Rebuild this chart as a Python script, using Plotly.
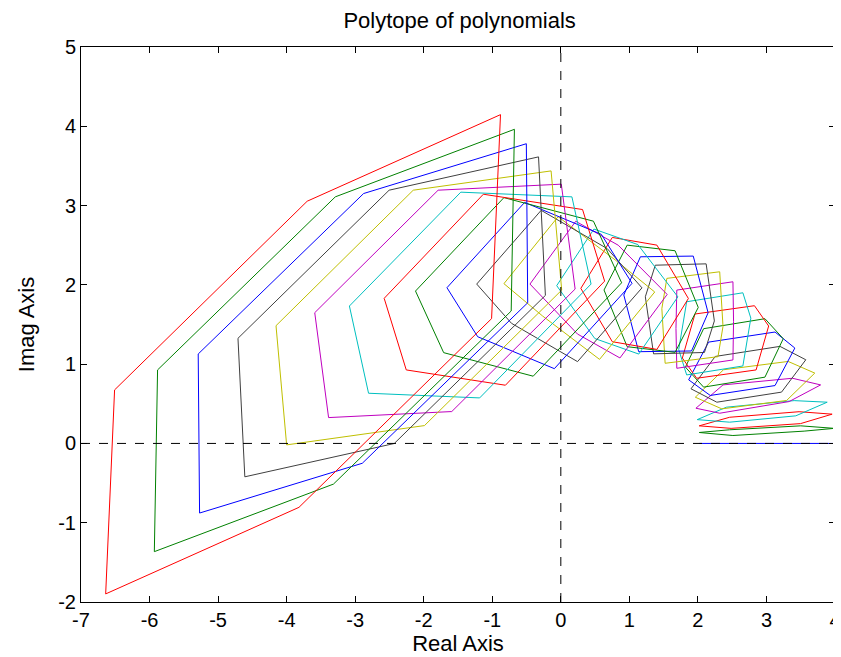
import plotly.graph_objects as go

# MATLAB colour order cycles b, g, r, c, m, y, k by frequency index
color_cycle = ["#0000FF", "#008000", "#FF0000", "#00BFBF", "#BF00BF", "#BFBF00", "#404040"]

# Value sets (hexagon vertices), index 0 = lowest frequency
poly_x = [
    [2.02, 4.0],
    [2.019, 2.46, 3.50, 3.99, 3.55, 2.51],
    [2.019, 2.463, 3.476, 3.958, 3.497, 2.484],
    [1.99, 2.415, 3.404, 3.886, 3.428, 2.463],
    [1.971, 2.366, 3.379, 3.79, 3.331, 2.318],
    [1.962, 2.373, 3.317, 3.705, 3.294, 2.349],
    [1.899, 2.253, 3.197, 3.574, 3.22, 2.276],
    [1.865, 2.156, 3.125, 3.414, 3.125, 2.18],
    [1.818, 2.083, 2.978, 3.245, 2.978, 2.083],
    [1.773, 1.957, 2.825, 3.032, 2.849, 1.982],
    [1.836, 1.72, 1.836, 2.656, 2.772, 2.656],
    [1.692, 1.68, 1.692, 2.511, 2.52, 2.511],
    [1.522, 1.474, 1.547, 2.318, 2.366, 2.293],
    [1.353, 1.233, 1.378, 2.12, 2.24, 2.095],
    [1.136, 0.919, 1.161, 1.932, 2.149, 1.907],
    [0.968, 0.63, 0.968, 1.667, 2.005, 1.667],
    [0.751, 0.292, 0.751, 1.402, 1.861, 1.402],
    [1.137, 0.496, -0.06, 0.483, 1.124, 1.707],
    [0.8625, 0.2425, -0.45, 0.2175, 0.8375, 1.5515],
    [-0.27, -0.83, -0.04, 0.80, 1.37, 0.565],
    [-0.72, -1.227, -0.287, 0.677, 1.184, 0.244],
    [-1.213, -1.661, -0.528, 0.591, 1.039, -0.094],
    [-1.709, -2.12, -0.83, 0.476, 0.887, -0.403],
    [-2.255, -2.577, -1.13, 0.317, 0.639, -0.808],
    [-2.805, -3.084, -1.459, 0.162, 0.441, -1.184],
    [-3.388, -3.59, -1.79, 0.007, 0.209, -1.591],
    [-4.0, -4.155, -2.153, -0.142, 0.013, -1.989],
    [-4.61, -4.71, -2.505, -0.325, -0.225, -2.43],
    [-5.27, -5.29, -2.877, -0.503, -0.483, -2.896],
    [-5.93, -5.883, -3.29, -0.677, -0.724, -3.317],
    [-6.64, -6.51, -3.70, -0.88, -1.01, -3.82],
]
poly_y = [
    [0.0, 0.0],
    [0.138, 0.172, 0.222, 0.19, 0.155, 0.10],
    [0.222, 0.33, 0.40, 0.369, 0.25, 0.19],
    [0.30, 0.457, 0.54, 0.52, 0.348, 0.268],
    [0.444, 0.738, 0.822, 0.738, 0.528, 0.381],
    [0.583, 0.929, 1.034, 0.887, 0.542, 0.436],
    [0.689, 1.097, 1.224, 1.055, 0.647, 0.52],
    [0.802, 1.278, 1.405, 1.203, 0.73, 0.605],
    [0.962, 1.447, 1.573, 1.321, 0.836, 0.710],
    [1.077, 1.632, 1.737, 1.481, 0.927, 0.822],
    [0.864, 1.184, 1.787, 1.90, 1.58, 0.977],
    [0.948, 1.45, 1.934, 2.039, 1.54, 1.053],
    [1.011, 1.70, 2.082, 2.165, 1.476, 1.094],
    [1.13, 1.85, 2.248, 2.265, 1.545, 1.147],
    [1.157, 1.872, 2.354, 2.363, 1.648, 1.166],
    [1.22, 1.935, 2.501, 2.43, 1.715, 1.149],
    [1.283, 1.956, 2.598, 2.501, 1.828, 1.186],
    [1.127, 1.323, 1.99, 2.704, 2.508, 1.849],
    [1.078, 1.38, 2.01, 2.802, 2.50, 1.879],
    [1.61, 2.015, 2.86, 2.31, 1.91, 1.06],
    [1.515, 2.01, 2.94, 2.457, 1.962, 1.032],
    [1.346, 1.964, 3.04, 2.637, 2.019, 0.943],
    [1.145, 1.922, 3.10, 2.803, 2.026, 0.848],
    [0.927, 1.83, 3.143, 2.95, 2.047, 0.734],
    [0.633, 1.733, 3.169, 3.11, 2.01, 0.574],
    [0.326, 1.649, 3.194, 3.27, 1.947, 0.402],
    [-0.018, 1.485, 3.194, 3.437, 1.934, 0.225],
    [-0.421, 1.326, 3.194, 3.614, 1.867, -0.001],
    [-0.878, 1.128, 3.152, 3.78, 1.774, -0.25],
    [-1.365, 0.927, 3.11, 3.962, 1.67, -0.513],
    [-1.898, 0.675, 3.055, 4.147, 1.574, -0.806],
]

x_ticks = [-7, -6, -5, -4, -3, -2, -1, 0, 1, 2, 3, 4]
x_tick_labels = ["-7", "-6", "-5", "-4", "-3", "-2", "-1", "0", "1", "2", "3", "4"]
y_ticks = [-2, -1, 0, 1, 2, 3, 4, 5]
y_tick_labels = ["-2", "-1", "0", "1", "2", "3", "4", "5"]

fig = go.Figure()
for i, (xs, ys) in enumerate(zip(poly_x, poly_y)):
    if len(xs) > 2:
        xs = xs + [xs[0]]
        ys = ys + [ys[0]]
    fig.add_trace(go.Scatter(x=xs, y=ys, mode="lines",
                             line=dict(color=color_cycle[i % 7], width=1),
                             showlegend=False, hoverinfo="skip"))

# dashed axes through origin
fig.add_shape(type="line", x0=-7, x1=4, y0=0, y1=0,
              line=dict(color="black", width=1, dash="dash"), layer="above")
fig.add_shape(type="line", x0=0, x1=0, y0=-2, y1=5,
              line=dict(color="black", width=1, dash="dash"), layer="above")

font_family = "Liberation Sans, Arial, sans-serif"
axis_common = dict(showgrid=False, zeroline=False, showline=True, linecolor="black",
                   linewidth=1, mirror="ticks", ticks="inside", ticklen=6,
                   tickcolor="black", ticklabeloverflow="allow",
                   tickfont=dict(family=font_family, size=20, color="black"))

fig.update_layout(
    width=841, height=657,
    margin=dict(l=73, r=8, t=39, b=63),
    paper_bgcolor="white", plot_bgcolor="white",
    title=dict(text="Polytope of polynomials", x=0.537, xanchor="center", y=0.982, yanchor="middle",
               font=dict(family=font_family, size=22, color="black")),
    xaxis=dict(range=[-7, 4], tickvals=x_ticks, ticktext=x_tick_labels,
               title=dict(text="Real Axis", font=dict(family=font_family, size=22, color="black"), standoff=1),
               **axis_common),
    yaxis=dict(range=[-2, 5], tickvals=y_ticks, ticktext=y_tick_labels,
               title=dict(text="Imag Axis", font=dict(family=font_family, size=22, color="black"), standoff=17),
               **axis_common),
)

fig.write_html("out.html")
